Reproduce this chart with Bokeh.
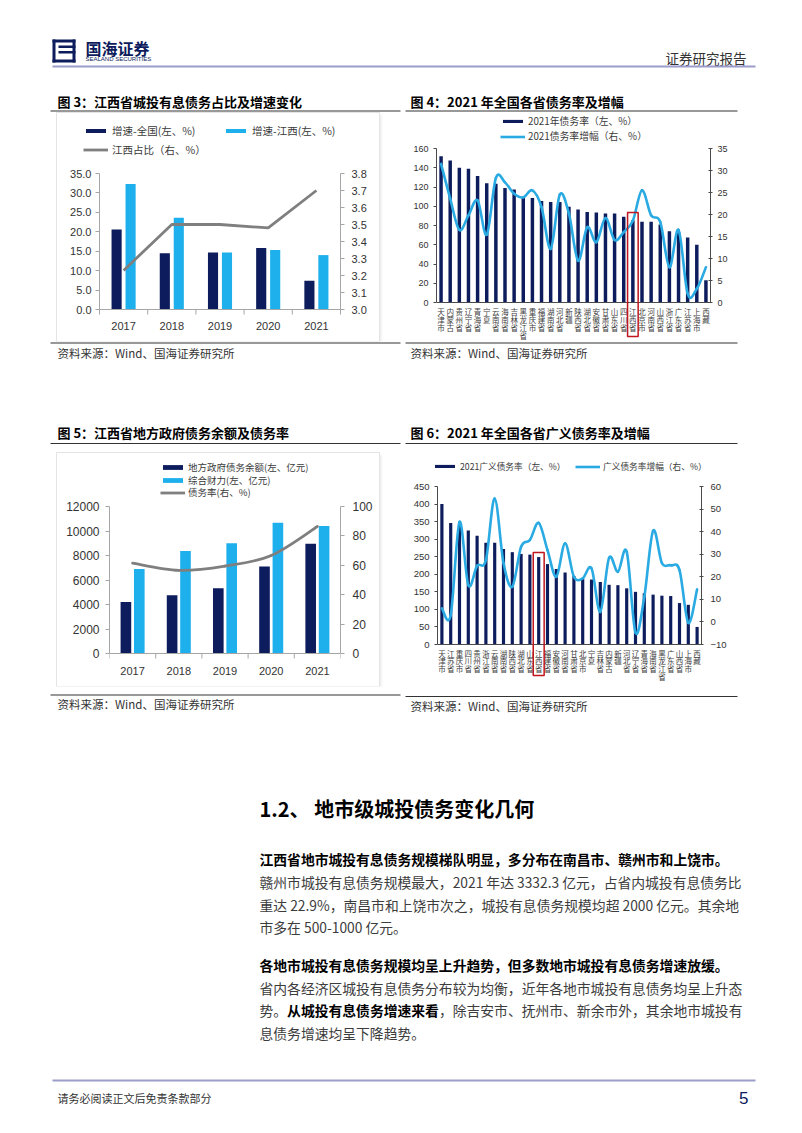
from bokeh.plotting import figure
from bokeh.layouts import column, row
from bokeh.models import (Range1d, LinearAxis, FixedTicker, NumeralTickFormatter,
                          Legend, LegendItem, Spacer)
from bokeh.embed import file_html
from bokeh.resources import INLINE
from bokeh.core.properties import value

# ---------------- data ----------------
years = ["2017", "2018", "2019", "2020", "2021"]

# Fig 3
growth_national = [20.6, 14.5, 14.7, 15.8, 7.4]
growth_jiangxi = [32.3, 23.6, 14.7, 15.3, 14.0]
share_jiangxi = [3.23, 3.50, 3.50, 3.48, 3.70]
ticks3_left = [0, 5, 10, 15, 20, 25, 30, 35]
ticks3_right = [3.0, 3.1, 3.2, 3.3, 3.4, 3.5, 3.6, 3.7, 3.8]

# Fig 4
provinces4 = ["天津市", "内蒙古", "贵州省", "辽宁省", "青海省", "宁夏", "云南省", "海南省",
              "吉林省", "黑龙江省", "重庆市", "福建省", "湖南省", "河北省", "新疆", "陕西省",
              "湖北省", "安徽省", "甘肃省", "山东省", "四川省", "江西省", "北京市", "河南省",
              "山西省", "浙江省", "广东省", "江苏省", "上海市", "西藏"]
debt_ratio_2021 = [152, 147.5, 140, 139, 131.5, 124, 123.5, 119, 117.5, 108.5,
                   108.5, 105.5, 104.5, 104.5, 99.5, 96.5, 94, 93.5, 92.5, 92.5,
                   89, 85.5, 84, 84, 81, 74, 73, 67.5, 60, 23]
debt_ratio_change = [31.5, 23.6, 16.5, 19.8, 23.2, 15.4, 28.3, 27.3, 24.7, 23.9,
                     25.5, 21.7, 12.2, 24.5, 20.2, 9.5, 17.1, 13.7, 19.2, 14.2,
                     16.0, 18.6, 25.5, 19.8, 18.3, 8.0, 16.5, 2.0, 3.1, 8.0]
ticks4_left = [0, 20, 40, 60, 80, 100, 120, 140, 160]
ticks4_right = [0, 5, 10, 15, 20, 25, 30, 35]

# Fig 5
local_debt = [4200, 4750, 5320, 7110, 8960]
fiscal_capacity = [6900, 8360, 8990, 10670, 10400]
debt_rate = [61.5, 56.6, 59.5, 66.7, 86.4]
ticks5_left = [0, 2000, 4000, 6000, 8000, 10000, 12000]
ticks5_right = [0, 20, 40, 60, 80, 100]

# Fig 6
provinces6 = ["天津市", "江苏省", "重庆市", "四川省", "贵州省", "浙江省", "云南省", "湖南省",
              "陕西省", "湖北省", "山东省", "江西省", "福建省", "安徽省", "河南省", "甘肃省",
              "北京市", "宁夏", "吉林省", "内蒙古", "新疆", "河北省", "辽宁省", "青海省",
              "海南省", "黑龙江省", "广东省", "山西省", "上海市", "西藏"]
broad_ratio = [400, 346, 340, 325, 310, 290, 290, 272, 263, 258,
               256, 249, 229, 215, 205, 195, 188, 185, 178, 170,
               169, 160, 150, 146, 142, 139, 138, 118, 113, 50]
broad_change = [6.0, 3.0, 44.3, 16.3, 24.9, 27.4, 54.7, 26.1, 15.6, 33.3,
                36.3, 43.9, 31.8, 20.0, 34.8, 20.0, 19.3, 23.7, 4.5, 28.4,
                22.2, 31.1, -4.7, 11.1, 40.4, 26.1, 25.1, 23.0, -0.4, 14.4]
ticks6_left = [0, 50, 100, 150, 200, 250, 300, 350, 400, 450]
ticks6_right = [-10, 0, 10, 20, 30, 40, 50, 60]

# ---------------- styles ----------------
CJK = "Noto Sans CJK SC"
NUM = "Liberation Sans"
NAVY = "#0c1c5c"
LBLUE = "#1eb0ec"
CURVE = "#29aae2"
LGRAY = "#7f7f7f"
AX_GRAY = "#a6a6a6"
AX_DARK = "#4a4a4a"
RED = "#c0161e"
LAV = "#9c9ccc"
PAGE_W = 800
CAT_FS = 7.5


def fig_base(w, h, xr, yr_, left, right):
    p = figure(width=w, height=h, x_range=xr, y_range=yr_, output_backend="svg",
               toolbar_location=None, x_axis_type=None, y_axis_type=None, min_border=0)
    p.min_border_left = left
    p.min_border_right = right
    p.min_border_top = 0
    p.min_border_bottom = 0
    p.outline_line_color = None
    return p


def yr(v0, v1, px0, px1, ftop, fbot):
    s = (v1 - v0) / (px0 - px1)
    return Range1d(v0 - (fbot - px0) * s, v1 + (px1 - ftop) * s)


def px2v(px, v0, v1, px0, px1):
    return v0 + (px0 - px) * (v1 - v0) / (px0 - px1)


def style_axis(ax, size, color, tick_out=4, tick_in=0, standoff=4, font=NUM, label_color="#333333"):
    ax.axis_line_color = color
    ax.major_tick_line_color = color
    ax.minor_tick_line_color = None
    ax.major_tick_out = tick_out
    ax.major_tick_in = tick_in
    ax.major_label_standoff = standoff
    ax.major_label_text_font = font
    ax.major_label_text_font_size = f"{size}px"
    ax.major_label_text_color = label_color


def add_legend(p, renderer, label, sx, sy, frame_left, frame_bottom, size,
               glyph_w=25, glyph_h=5, standoff=4, item_h=14):
    leg = Legend(items=[LegendItem(label=label, renderers=[renderer])],
                 location=(sx - frame_left, frame_bottom - sy - item_h / 2),
                 orientation="vertical", padding=0, margin=0, spacing=0,
                 glyph_width=glyph_w, glyph_height=glyph_h, label_standoff=standoff,
                 label_height=item_h, label_text_font=CJK, label_text_font_size=f"{size}px",
                 label_text_color="#3a3a3a", label_text_baseline="middle",
                 border_line_color=None, background_fill_alpha=0)
    p.add_layout(leg)


def smooth(p, xs, ys, color, width, y_range_name="default"):
    n = len(xs)
    d = dict(x0=[], y0=[], x1=[], y1=[], cx0=[], cy0=[], cx1=[], cy1=[])
    for i in range(n - 1):
        xa, ya, xb, yb = xs[i], ys[i], xs[i + 1], ys[i + 1]
        xp, yp = (xs[i - 1], ys[i - 1]) if i > 0 else (xa, ya)
        xn, yn = (xs[i + 2], ys[i + 2]) if i + 2 < n else (xb, yb)
        d["x0"].append(xa); d["y0"].append(ya)
        d["x1"].append(xb); d["y1"].append(yb)
        d["cx0"].append(xa + (xb - xp) / 6); d["cy0"].append(ya + (yb - yp) / 6)
        d["cx1"].append(xb - (xn - xa) / 6); d["cy1"].append(yb - (yn - ya) / 6)
    p.bezier(line_color=color, line_width=width, line_cap="round", y_range_name=y_range_name, **d)
    # proxy for the legend swatch (a single point draws nothing by itself)
    return p.line(x=[xs[0]], y=[ys[0]], line_color=color, line_width=width, y_range_name=y_range_name)


def baseline(p, n, color):
    p.segment(x0=[0], y0=[0], x1=[n], y1=[0], line_color=color, line_width=1)


def year_axis(p, xc, labels, size, label_y, tick_y):
    # x axis drawn inside the (extended) frame: baseline, boundary ticks, labels
    baseline(p, len(xc), AX_GRAY)
    edges = [i for i in range(len(xc) + 1)]
    p.segment(x0=edges, y0=[0] * len(edges), x1=edges, y1=[tick_y] * len(edges),
              line_color=AX_GRAY, line_width=1)
    p.text(x=xc, y=[label_y] * len(xc), text=labels, text_font=value(NUM),
           text_font_size=f"{size}px", text_color="#333333", text_align="center",
           text_baseline="middle")


def vertical_labels(p, xc, labels, first_px, pitch_px, to_val):
    # stacked (one character per row) category labels
    rows = max(len(s) for s in labels)
    for k in range(rows):
        p.text(x=xc, y=[to_val(first_px + k * pitch_px)] * len(xc),
               text=[s[k] if k < len(s) else "" for s in labels],
               text_font=value(CJK), text_font_size=f"{CAT_FS}px", text_color="#404040",
               text_align="center", text_baseline="middle")


# ---------------- Fig 3 (frame = whole figure, axes at fixed locations) ----------------
fx, fy, fw, fh = 57, 113, 322, 228
FL, FR, FB, FT = 99, 340, 309, 173
n3 = len(years)
u3 = (FR - FL) / n3
p3 = fig_base(fw, fh, Range1d(-(FL - fx) / u3, n3 + (fx + fw - FR) / u3),
              yr(0, 35, FB, FT, fy, fy + fh), 0, 0)
p3.extra_y_ranges = {"r": yr(3.0, 3.8, FB, FT, fy, fy + fh)}
xc3 = [i + 0.5 for i in range(n3)]
r3a = p3.vbar(x=[c - 0.145 for c in xc3], top=growth_national, width=0.21, fill_color=NAVY, line_color=None)
r3b = p3.vbar(x=[c + 0.145 for c in xc3], top=growth_jiangxi, width=0.21, fill_color=LBLUE, line_color=None)
r3c = p3.line(x=xc3, y=share_jiangxi, y_range_name="r", line_color=LGRAY, line_width=2.8)
a = LinearAxis(ticker=FixedTicker(ticks=ticks3_left), formatter=NumeralTickFormatter(format="0.0"),
               bounds=(0, 35), fixed_location=0)
style_axis(a, 11, AX_GRAY, standoff=4)
p3.add_layout(a, "left")
a = LinearAxis(y_range_name="r", ticker=FixedTicker(ticks=ticks3_right), formatter=NumeralTickFormatter(format="0.0"),
               bounds=(3.0, 3.8), fixed_location=n3)
style_axis(a, 11, AX_GRAY, standoff=7)
p3.add_layout(a, "right")
year_axis(p3, xc3, years, 11, px2v(325, 0, 35, FB, FT), px2v(FB + 5, 0, 35, FB, FT))
add_legend(p3, r3a, "增速-全国(左、%)", 83, 131, fx, fy + fh, 10.5)
add_legend(p3, r3b, "增速-江西(左、%)", 223, 131, fx, fy + fh, 10.5)
add_legend(p3, r3c, "江西占比（右、%）", 83, 150, fx, fy + fh, 10.5)
p3.styles = {"box-shadow": "0 0 0 1px #e4e4e4, 2px 2px 3px rgba(0,0,0,0.10)"}

# ---------------- Fig 4 ----------------
gx, gy, gw, gh = 405, 113, 332, 228
GL, GR, GB, G0, GT = 436, 710, 341, 302, 148
n4 = len(provinces4)
p4 = fig_base(gw, gh, Range1d(0, n4), yr(0, 160, G0, GT, gy, GB), GL - gx, gx + gw - GR)
p4.extra_y_ranges = {"r": yr(0, 35, G0, GT, gy, GB)}
xc4 = [i + 0.5 for i in range(n4)]
r4a = p4.vbar(x=xc4, top=debt_ratio_2021, width=0.38, fill_color=NAVY, line_color=None)
r4b = smooth(p4, xc4, debt_ratio_change, CURVE, 2.6, "r")
baseline(p4, n4, AX_DARK)
a = LinearAxis(ticker=FixedTicker(ticks=ticks4_left), bounds=(0, 160))
style_axis(a, 9, AX_DARK, tick_out=3, standoff=5)
p4.add_layout(a, "left")
a = LinearAxis(y_range_name="r", ticker=FixedTicker(ticks=ticks4_right), bounds=(0, 35))
style_axis(a, 9, AX_DARK, tick_out=2, tick_in=2, standoff=5)
p4.add_layout(a, "right")
vertical_labels(p4, xc4, provinces4, 310.7, 8.0, lambda px: px2v(px, 0, 160, G0, GT))
j4 = provinces4.index("江西省")
p4.quad(left=[xc4[j4] - 0.58], right=[xc4[j4] + 0.58], top=[debt_ratio_2021[j4] + 8],
        bottom=[px2v(336, 0, 160, G0, GT)], fill_color=None, line_color=RED, line_width=1.5)
add_legend(p4, r4a, "2021年债务率（左、%）", 500, 121, GL, GB, 9.8, glyph_h=4, standoff=3)
add_legend(p4, r4b, "2021债务率增幅（右、%）", 500, 136, GL, GB, 9.8, standoff=3)

# ---------------- Fig 5 ----------------
hx, hy, hw, hh = 57, 453, 322, 233
HL, HR, HB, HT = 109, 340, 653, 506
p5 = fig_base(hw, hh, Range1d(0, len(years)), yr(0, 12000, HB, HT, hy, hy + hh), HL - hx, hx + hw - HR)
p5.extra_y_ranges = {"r": yr(0, 100, HB, HT, hy, hy + hh)}
xc5 = [i + 0.5 for i in range(len(years))]
r5a = p5.vbar(x=[c - 0.145 for c in xc5], top=local_debt, width=0.23, fill_color=NAVY, line_color=None)
r5b = p5.vbar(x=[c + 0.145 for c in xc5], top=fiscal_capacity, width=0.23, fill_color=LBLUE, line_color=None)
r5c = smooth(p5, xc5, debt_rate, LGRAY, 2.8, "r")
a = LinearAxis(ticker=FixedTicker(ticks=ticks5_left), bounds=(0, 12000))
style_axis(a, 12, AX_GRAY, standoff=6)
p5.add_layout(a, "left")
a = LinearAxis(y_range_name="r", ticker=FixedTicker(ticks=ticks5_right), bounds=(0, 100))
style_axis(a, 12, AX_GRAY, standoff=8)
p5.add_layout(a, "right")
year_axis(p5, xc5, years, 11, px2v(670, 0, 12000, HB, HT), px2v(HB + 5, 0, 12000, HB, HT))
add_legend(p5, r5a, "地方政府债务余额(左、亿元)", 160, 468, HL, hy + hh, 9.5, glyph_h=6, standoff=3, item_h=12)
add_legend(p5, r5b, "综合财力(左、亿元)", 160, 481, HL, hy + hh, 9.5, glyph_h=6, standoff=3, item_h=12)
add_legend(p5, r5c, "债务率(右、%)", 160, 493, HL, hy + hh, 9.5, standoff=3, item_h=12)
p5.styles = {"box-shadow": "0 0 0 1px #e4e4e4, 2px 2px 3px rgba(0,0,0,0.10)"}

# ---------------- Fig 6 (frame = whole figure, axes at fixed locations) ----------------
kx, ky, kw, kh = 405, 453, 332, 233
KL, KR, KB, K0, KT = 437, 701, 686, 644, 486
n6 = len(provinces6)
u6 = (KR - KL) / n6
p6 = fig_base(kw, kh, Range1d(-(KL - kx) / u6, n6 + (kx + kw - KR) / u6),
              yr(0, 450, K0, KT, ky, KB), 0, 0)
p6.extra_y_ranges = {"r": yr(-10, 60, K0, KT, ky, KB)}
xc6 = [i + 0.5 for i in range(n6)]
r6a = p6.vbar(x=xc6, top=broad_ratio, width=0.36, fill_color=NAVY, line_color=None)
r6b = smooth(p6, xc6, broad_change, CURVE, 2.6, "r")
baseline(p6, n6, AX_DARK)
a = LinearAxis(ticker=FixedTicker(ticks=ticks6_left), bounds=(0, 450), fixed_location=0)
style_axis(a, 9.5, AX_DARK, tick_out=3, standoff=5)
p6.add_layout(a, "left")
a = LinearAxis(y_range_name="r", ticker=FixedTicker(ticks=ticks6_right), bounds=(-10, 60), fixed_location=n6)
style_axis(a, 9.5, AX_DARK, tick_out=2, tick_in=2, standoff=7)
p6.add_layout(a, "right")
vertical_labels(p6, xc6, provinces6, 652.7, 7.7, lambda px: px2v(px, 0, 450, K0, KT))
j6 = provinces6.index("江西省")
p6.quad(left=[xc6[j6] - 0.62], right=[xc6[j6] + 0.62], top=[broad_ratio[j6] + 13],
        bottom=[px2v(675, 0, 450, K0, KT)], fill_color=None, line_color=RED, line_width=1.5)
add_legend(p6, r6a, "2021广义债务率（左、%）", 432, 466, kx, KB, 8.7, glyph_h=4, standoff=3)
add_legend(p6, r6b, "广义债务率增幅（右、%）", 575, 466, kx, KB, 8.7, standoff=3)


# ---------------- page canvases ----------------
class Canvas:
    def __init__(self, top, height):
        self.ox, self.oy = 0, top
        p = figure(width=PAGE_W, height=height, x_range=Range1d(0, PAGE_W), y_range=Range1d(height, 0),
                   output_backend="svg", toolbar_location=None, x_axis_type=None, y_axis_type=None,
                   min_border=0)
        p.outline_line_color = None
        self.p = p

    def text(self, x, y, s, size, color="#000000", bold=False, font=CJK, align="left"):
        self.p.text(x=[x - self.ox], y=[y - self.oy], text=[s], text_font=value(font),
                    text_font_size=f"{size}px", text_color=color,
                    text_font_style="bold" if bold else "normal",
                    text_align=align, text_baseline="middle")

    def hline(self, x0, x1, y, color, width=1):
        self.p.segment(x0=[x0 - self.ox], y0=[y - self.oy], x1=[x1 - self.ox], y1=[y - self.oy],
                       line_color=color, line_width=width)

    def box(self, l, r, t, b, color):
        self.p.quad(left=[l - self.ox], right=[r - self.ox], top=[t - self.oy], bottom=[b - self.oy],
                    fill_color=color, line_color=None)


TXT = "#3c3c3c"
SRC = "资料来源：Wind、国海证券研究所"

# Row A: header + titles of fig 3/4
cA = Canvas(0, 113)
cA.box(52, 55, 39, 62, NAVY)
cA.box(52, 75, 39, 42, NAVY)
cA.box(58, 75, 45, 47.5, NAVY)
cA.box(58, 75, 50.5, 53, NAVY)
cA.box(52, 75, 59, 62, NAVY)
cA.box(72, 75, 39, 62, NAVY)
cA.text(85, 47, "国海证券", 16, NAVY, bold=True)
cA.text(85, 58.5, "SEALAND SECURITIES", 6, NAVY, font=NUM)
cA.text(746, 57, "证券研究报告", 13.5, "#333333", align="right")
cA.hline(52, 755, 66, LAV, 2)
cA.text(57, 101, "图 3：江西省城投有息债务占比及增速变化", 13, "#000000", bold=True)
cA.text(410, 101, "图 4：2021 年全国各省债务率及增幅", 13, "#000000", bold=True)
cA.hline(50, 400, 110.5, "#333333", 1)
cA.hline(405, 737, 110.5, "#333333", 1)

# Row C: sources of fig 3/4 + titles of fig 5/6
cC = Canvas(341, 112)
cC.hline(50, 400, 342.5, "#333333", 1)
cC.hline(405, 737, 342.5, "#333333", 1)
cC.text(57, 352, SRC, 11.5, "#333333")
cC.text(410, 352, SRC, 11.5, "#333333")
cC.text(57, 432, "图 5：江西省地方政府债务余额及债务率", 13, "#000000", bold=True)
cC.text(410, 432, "图 6：2021 年全国各省广义债务率及增幅", 13, "#000000", bold=True)
cC.hline(50, 400, 443, "#333333", 1)
cC.hline(405, 737, 443, "#333333", 1)

# Row E: sources of fig 5/6 + text + footer
cE = Canvas(686, 445)
cE.hline(50, 400, 694.5, "#333333", 1)
cE.hline(405, 737, 696, "#333333", 1)
cE.text(57, 703, SRC, 11.5, "#333333")
cE.text(410, 705, SRC, 11.5, "#333333")
cE.text(259, 808, "1.2、 地市级城投债务变化几何", 20, "#000000", bold=True)
FS = 13.8
cE.text(259, 858, "江西省地市城投有息债务规模梯队明显，多分布在南昌市、赣州市和上饶市。", FS, "#000000", bold=True)
cE.text(259, 881, "赣州市城投有息债务规模最大，2021 年达 3332.3 亿元，占省内城投有息债务比", FS, TXT)
cE.text(259, 904, "重达 22.9%，南昌市和上饶市次之，城投有息债务规模均超 2000 亿元。其余地", FS, TXT)
cE.text(259, 926, "市多在 500-1000 亿元。", FS, TXT)
cE.text(259, 964, "各地市城投有息债务规模均呈上升趋势，但多数地市城投有息债务增速放缓。", FS, "#000000", bold=True)
cE.text(259, 987, "省内各经济区城投有息债务分布较为均衡，近年各地市城投有息债务均呈上升态", FS, TXT)
cE.text(259, 1009, "势。", FS, TXT)
cE.text(259 + 2 * FS, 1009, "从城投有息债务增速来看", FS, "#000000", bold=True)
cE.text(259 + 13 * FS, 1009, "，除吉安市、抚州市、新余市外，其余地市城投有", FS, TXT)
cE.text(259, 1032, "息债务增速均呈下降趋势。", FS, TXT)
cE.hline(52, 755, 1080, LAV, 2)
cE.text(57, 1097, "请务必阅读正文后免责条款部分", 11, "#333333")
cE.text(748, 1097, "5", 17, NAVY, font=NUM, align="right")

rowB = row(Spacer(width=57, height=228), p3, Spacer(width=26, height=228), p4, Spacer(width=63, height=228))
rowD = row(Spacer(width=57, height=233), p5, Spacer(width=26, height=233), p6, Spacer(width=63, height=233))
page = column(cA.p, rowB, cC.p, rowD, cE.p)

open("out.html", "w").write(file_html(page, INLINE))
